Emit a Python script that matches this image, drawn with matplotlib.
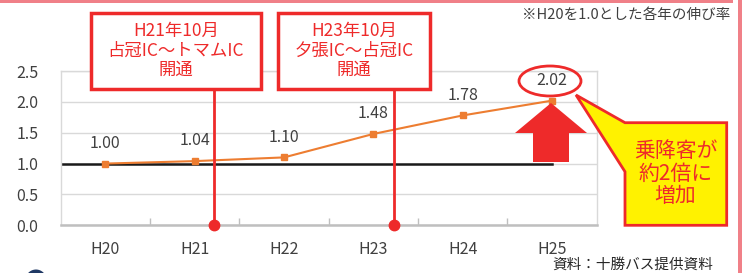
import matplotlib
matplotlib.use("Agg")
import matplotlib.pyplot as plt
from matplotlib.transforms import Affine2D
from matplotlib.patches import Rectangle, Polygon, Ellipse, Circle

plt.rcParams['font.family'] = ['Noto Sans CJK JP', 'DejaVu Sans']

# データ（H20を1.0とした伸び率）
years = ['H20', 'H21', 'H22', 'H23', 'H24', 'H25']
ratio = [1.00, 1.04, 1.10, 1.48, 1.78, 2.02]
base_value = 1.0
y_ticks = [0.0, 0.5, 1.0, 1.5, 2.0, 2.5]

# 開通イベント（x はカテゴリ軸上の位置）
events = [
    (1.72, 'H21年10月\n占冠IC～トマムIC\n開通'),
    (3.73, 'H23年10月\n夕張IC～占冠IC\n開通'),
]
callout_text = '乗降客が\n約2倍に\n増加'
note_text = '※H20を1.0とした各年の伸び率'
source_text = '資料：十勝バス提供資料'

W, H = 742, 273
RED = '#EE2A2A'
ORANGE = '#ED7D31'
TXT = '#404040'

fig = plt.figure(figsize=(W / 100, H / 100), dpi=100)
# ピクセル座標（左上原点）
px = Affine2D().scale(1 / W, -1 / H).translate(0, 1) + fig.transFigure

ax = fig.add_axes([60.7 / W, 1 - 225.3 / H, 536 / W, 154.3 / H])
xs = [i + 0.5 for i in range(len(years))]

ax.set_xlim(0, len(years))
ax.set_ylim(0, 2.5)
ax.set_yticks(y_ticks)
ax.set_yticklabels([f'{v:.1f}' for v in y_ticks])
ax.set_xticks(xs)
ax.set_xticklabels(years)
ax.set_xticks(range(1, len(years)), minor=True)
ax.tick_params(axis='y', length=0, pad=16, labelsize=11.5, labelcolor=TXT)
ax.tick_params(axis='x', which='major', length=0, pad=11, labelsize=11.5, labelcolor=TXT)
ax.tick_params(axis='x', which='minor', length=5, width=1, direction='in', color='#BFBFBF')
ax.grid(axis='y', color='#D9D9D9', linewidth=1)
ax.set_axisbelow(True)
for s in ['left', 'right', 'top']:
    ax.spines[s].set_color('#D9D9D9')
    ax.spines[s].set_linewidth(1)
ax.spines['bottom'].set_color('#BFBFBF')
ax.spines['bottom'].set_linewidth(1.8)

# 基準線 1.0
ax.plot([0, xs[-1]], [base_value, base_value], color='#1A1A1A', linewidth=1.8, zorder=2)
# 伸び率
ax.plot(xs, ratio, color=ORANGE, linewidth=1.5, marker='s', markersize=4.5, zorder=3)
for x, v in zip(xs, ratio):
    ax.annotate(f'{v:.2f}', (x, v), xytext=(0, 14.5), textcoords='offset points',
                ha='center', va='center', fontsize=11.5, color=TXT)

# 開通の縦線と丸
for ex, _ in events:
    ax.plot([ex, ex], [0, 2.3], color=RED, linewidth=2, clip_on=False, zorder=4)
    ax.plot([ex], [0], 'o', color=RED, markersize=7.5, clip_on=False, zorder=5)

# 開通の吹き出し枠
boxes = [(90.7, 261.0), (278.3, 430.3)]
for (x0, x1), (_, label) in zip(boxes, events):
    fig.patches.append(Rectangle((x0, 13.3), x1 - x0, 76, transform=px,
                                 facecolor='white', edgecolor=RED, linewidth=2.5))
    fig.text((x0 + x1) / 2, 50.5, label, transform=px, ha='center', va='center',
             color=RED, fontsize=12.5, linespacing=1.1)

# 2.02 の楕円
fig.patches.append(Ellipse((550, 81), 62, 30, transform=px, facecolor='none',
                           edgecolor=RED, linewidth=2))

# 上向き矢印
fig.patches.append(Polygon([(551, 103), (587, 133), (569, 133), (569, 162),
                            (533, 162), (533, 133), (515, 133)],
                           closed=True, transform=px, facecolor=RED, edgecolor='none'))

# 吹き出し（黄色）
fig.patches.append(Polygon([(625, 122.7), (726.7, 122.7), (726.7, 225.3), (625, 225.3),
                            (625, 171.7), (576, 95)],
                           closed=True, transform=px, facecolor='#FFF200',
                           edgecolor=RED, linewidth=2))
fig.text(675.5, 173.5, callout_text, transform=px, ha='center', va='center',
         color=RED, fontsize=15, linespacing=1.05)

# 注記・出典
fig.text(730, 15, note_text, transform=px, ha='right', va='center', fontsize=10.5, color=TXT)
fig.text(713, 265, source_text, transform=px, ha='right', va='center', fontsize=10.5, color='#262626')

# 枠（ピンク）と左下の丸
fig.patches.append(Rectangle((0, 0), 733, 3.3, transform=px, facecolor='#F08088', edgecolor='none'))
fig.patches.append(Rectangle((737.5, 0), 5, H, transform=px, facecolor='#F08088', edgecolor='none'))
fig.patches.append(Circle((36, 280), 10.5, transform=px, facecolor='#1F3864', edgecolor='none'))

fig.savefig('out.png', dpi=100)
